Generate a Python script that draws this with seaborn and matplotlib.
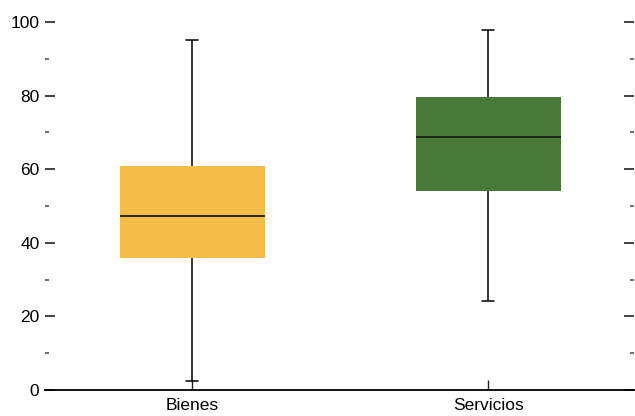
import pandas as pd
import seaborn as sns
import matplotlib.pyplot as plt
from matplotlib.ticker import MultipleLocator

# five-number summaries: low whisker, q1, median, q3, high whisker
categories = ["Bienes", "Servicios"]
bienes = [2.4, 35.9, 47.3, 60.9, 95.1]
servicios = [24.2, 54.1, 68.8, 79.6, 97.8]
colors = ["#F3BC48", "#4A7A37"]

df = pd.DataFrame({
	"grupo": [categories[0]] * len(bienes) + [categories[1]] * len(servicios),
	"valor": bienes + servicios,
})

sns.set_style("white")
plt.rcParams["font.family"] = ["Liberation Sans Narrow", "Liberation Sans", "DejaVu Sans"]

fig = plt.figure(figsize=(6.35, 4.16), dpi=100)
ax = fig.add_axes([45 / 635, 26 / 416, 1 - 45 / 635 - 0.001, 368 / 416])

sns.boxplot(data=df, x="grupo", y="valor", hue="grupo", order=categories,
	palette=colors, legend=False, whis=(0, 100), width=0.49, saturation=1,
	linewidth=1.1, linecolor="black", ax=ax,
	boxprops=dict(linewidth=0),
	medianprops=dict(color="#1a1a1a", linewidth=1.3))

# narrow the whisker caps
for line in ax.lines:
	xd = line.get_xdata()
	yd = line.get_ydata()
	if len(xd) == 2 and xd[0] != xd[1] and yd[0] == yd[1]:
		if abs(xd[1] - xd[0]) < 0.3:
			c = (xd[0] + xd[1]) / 2
			line.set_xdata([c - 0.02, c + 0.02])

ax.set_ylim(0, 100)
ax.set_xlim(-0.497, 1.493)
ax.set_xlabel("")
ax.set_ylabel("")

ax.yaxis.set_major_locator(MultipleLocator(20))
ax.yaxis.set_minor_locator(MultipleLocator(10))
ax.tick_params(axis="y", which="major", direction="in", length=7, width=1.2,
	left=True, right=True, labelsize=12.5, pad=4, color="#222222", labelcolor="black")
ax.tick_params(axis="y", which="minor", direction="in", length=3, width=1.2,
	left=True, right=True, color="#555555")
ax.tick_params(axis="x", direction="in", length=7, width=1.0, bottom=True,
	labelsize=12.5, pad=6, color="#222222", labelcolor="black")

for s in ["left", "right", "top"]:
	ax.spines[s].set_visible(False)
ax.spines["bottom"].set_color("black")
ax.spines["bottom"].set_linewidth(1.3)

plt.savefig("out.png", dpi=100)
